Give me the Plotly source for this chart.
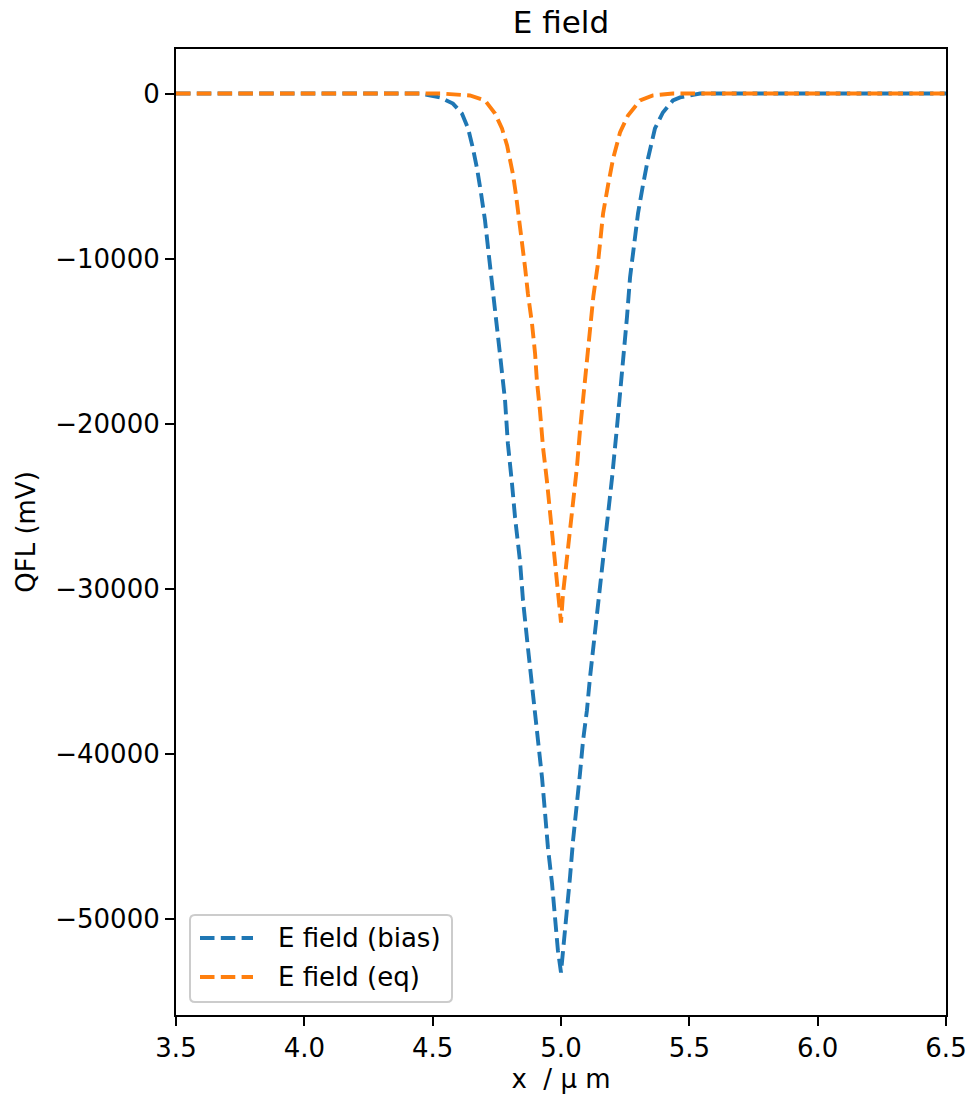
import plotly.graph_objects as go

# E field under bias (x in micrometres, field in mV)
x_bias = [3.5, 4.0, 4.451, 4.529, 4.579, 4.614, 4.638, 4.657, 4.673, 4.688, 4.704, 4.716,
          4.731, 4.743, 4.762, 4.782, 4.793, 4.809, 4.821, 4.840, 4.852, 4.871, 4.891,
          4.906, 4.926, 4.938, 4.949, 4.965, 4.977, 4.988, 5.000,
          5.008, 5.023, 5.035, 5.047, 5.062, 5.074, 5.086, 5.101, 5.113, 5.130, 5.146,
          5.162, 5.179, 5.199, 5.218, 5.234, 5.249, 5.257, 5.269, 5.288, 5.300, 5.319,
          5.339, 5.366, 5.397, 5.436, 5.464, 5.542, 6.0, 6.5]
y_bias = [0, 0, 0, -240, -610, -1210, -2120, -3330, -4550, -6000, -7700, -9400,
          -11330, -13150, -15760, -18600, -21210, -23630, -25700, -28300, -30720, -33570, -36360,
          -38790, -41450, -43630, -45690, -47870, -49930, -51940, -53270,
          -51940, -49930, -47510, -45270, -43270, -41210, -39210, -37390, -35390, -32970, -30910,
          -28900, -26300, -23270, -20240, -17600, -14970, -13570, -11150, -8730, -7270, -5580,
          -3940, -2120, -1150, -420, -240, 0, 0, 0]

# E field at equilibrium
x_eq = [3.5, 4.0, 4.529, 4.645, 4.704, 4.743, 4.770, 4.790, 4.801, 4.813, 4.825, 4.836, 4.848,
        4.860, 4.871, 4.887, 4.899, 4.906, 4.918, 4.930, 4.945, 4.957, 4.969, 4.984, 4.996,
        5.000,
        5.008, 5.023, 5.035, 5.047, 5.062, 5.074, 5.086, 5.101, 5.113, 5.126, 5.144,
        5.164, 5.183, 5.203, 5.230, 5.261, 5.308, 5.358, 5.436, 6.0, 6.5]
y_eq = [0, 0, 0, -120, -420, -1210, -2120, -3150, -3940, -4910, -6180, -7450, -8970,
        -10540, -12120, -13940, -15760, -17390, -19210, -21450, -23450, -25450, -27270, -29330, -31330,
        -32060,
        -30300, -28300, -26300, -24660, -22660, -20420, -18600, -16180, -14180, -12300, -10300,
        -7270, -5580, -3940, -2360, -1330, -420, -120, 0, 0, 0]

series_names = ["E field (bias)", "E field (eq)"]
x_ticks = [3.5, 4.0, 4.5, 5.0, 5.5, 6.0, 6.5]
y_ticks = [0, -10000, -20000, -30000, -40000, -50000]
y_tick_text = ["0" if v == 0 else "\u2212" + str(-v) for v in y_ticks]

FONT = "DejaVu Sans"
BLUE = "#1f77b4"
ORANGE = "#ff7f0e"
DASH = "14.5px,6.3px"
LW = 3.9

W, H = 972, 1102
L, R, T, B = 176, 26, 49, 87
PW, PH = W - L - R, H - T - B


def px(xp):
    return (xp - L) / PW


def py(yp):
    return (H - B - yp) / PH


fig = go.Figure()
fig.add_trace(go.Scatter(x=x_bias, y=y_bias, mode="lines", name=series_names[0],
                         line=dict(color=BLUE, width=LW, dash=DASH), showlegend=False))
fig.add_trace(go.Scatter(x=x_eq, y=y_eq, mode="lines", name=series_names[1],
                         line=dict(color=ORANGE, width=LW, dash=DASH), showlegend=False))

axis_common = dict(
    showgrid=False, zeroline=False, showline=True, mirror=True,
    linecolor="black", linewidth=2.1,
    ticks="outside", ticklen=9, tickwidth=2.1, tickcolor="black",
    tickfont=dict(family=FONT, size=26, color="black"),
    automargin=False,
)

# Legend box with rounded corners, drawn in paper coordinates
bx0, bx1, by0, by1, rad = 190, 452, 915, 1002, 5
rx, ry = rad / PW, rad / PH
X0, X1, Y0, Y1 = px(bx0), px(bx1), py(by1), py(by0)
box_path = (f"M{X0 + rx},{Y0} L{X1 - rx},{Y0} Q{X1},{Y0} {X1},{Y0 + ry} "
            f"L{X1},{Y1 - ry} Q{X1},{Y1} {X1 - rx},{Y1} "
            f"L{X0 + rx},{Y1} Q{X0},{Y1} {X0},{Y1 - ry} "
            f"L{X0},{Y0 + ry} Q{X0},{Y0} {X0 + rx},{Y0} Z")
shapes = [dict(type="path", xref="paper", yref="paper", path=box_path,
               fillcolor="rgba(255,255,255,0.8)", line=dict(color="#cccccc", width=2))]
annotations = []
for name, color, yline in [(series_names[0], BLUE, 938), (series_names[1], ORANGE, 977)]:
    shapes.append(dict(type="line", xref="paper", yref="paper",
                       x0=px(200), x1=px(253), y0=py(yline), y1=py(yline),
                       line=dict(color=color, width=LW, dash=DASH)))
    annotations.append(dict(text=name, xref="paper", yref="paper", x=px(276), y=py(yline),
                            xanchor="left", yanchor="middle", showarrow=False,
                            font=dict(family=FONT, size=26, color="black")))

fig.update_layout(
    width=W, height=H,
    margin=dict(l=L, r=R, t=T, b=B, autoexpand=False),
    paper_bgcolor="white", plot_bgcolor="white",
    font=dict(family=FONT, size=26, color="black"),
    title=dict(text="E field", x=(L + W - R) / 2 / W, xanchor="center",
               y=1 - 22 / H, yanchor="middle",
               font=dict(family=FONT, size=31, color="black")),
    xaxis=dict(range=[3.5, 6.5], tickvals=x_ticks,
               ticktext=[f"{v:.1f}" for v in x_ticks],
               title=dict(text="x  / \u03bc m", standoff=8,
                          font=dict(family=FONT, size=26, color="black")),
               **axis_common),
    yaxis=dict(range=[-55848, 2697], tickvals=y_ticks, ticktext=y_tick_text,
               title=dict(text="QFL (mV)", standoff=12,
                          font=dict(family=FONT, size=26, color="black")),
               **axis_common),
    shapes=shapes,
    annotations=annotations,
    showlegend=False,
)

fig.write_html("out.html")
